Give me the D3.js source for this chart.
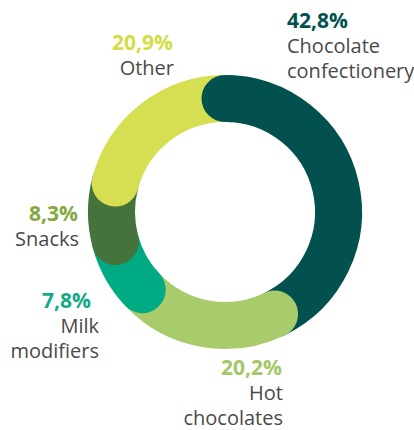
<!DOCTYPE html>
<html>
<head>
<meta charset="utf-8">
<script src="https://cdn.jsdelivr.net/npm/d3@7"></script>
<style>
  body { margin: 0; background: #fff; }
  text { font-family: "Open Sans", "Noto Sans", sans-serif; }
</style>
</head>
<body>
<script>
// segment data, clockwise from the top
var categories = ["Chocolate confectionery", "Hot chocolates", "Milk modifiers", "Snacks", "Other"];
var shares = [42.8, 20.2, 7.8, 8.3, 20.9];
var pctLabels = ["42,8%", "20,2%", "7,8%", "8,3%", "20,9%"];
var nameLines = [["Chocolate", "confectionery"], ["Hot", "chocolates"], ["Milk", "modifiers"], ["Snacks"], ["Other"]];

var colors = ["#02514f", "#a8cb6b", "#00ab84", "#44733c", "#d6df52"];
var labelColors = ["#02514f", "#a3c865", "#13aa88", "#84a93f", "#d4dd44"];

// label anchor per category: [x, y of percent baseline, text-anchor]
var labelPos = [
    [287, 28, "start"],
    [282, 375, "end"],
    [91, 308, "end"],
    [78, 221, "end"],
    [173, 50, "end"]
];
var nameOffsets = [0, 1, 8, 1, 1];

var width = 414,
    height = 430,
    cx = 225,
    cy = 212,
    outerR = 137,
    innerR = 90,
    midR = (outerR + innerR) / 2,
    thick = outerR - innerR;

var svg = d3.select("body").append("svg")
    .attr("width", width)
    .attr("height", height);

var pie = d3.pie().sort(null).value(function(d) { return d; });
var arcs = pie(shares);

function arcPath(a0, a1) {
    var p = d3.path();
    var start = a0 - Math.PI / 2, end = a1 - Math.PI / 2;
    p.moveTo(midR * Math.cos(start), midR * Math.sin(start));
    p.arc(0, 0, midR, start, end);
    return p.toString();
}

var ring = svg.append("g").attr("transform", "translate(" + cx + "," + cy + ")");

ring.selectAll(".seg")
    .data(arcs)
    .enter().append("path")
    .attr("class", "seg")
    .attr("d", function(d) { return arcPath(d.startAngle, d.endAngle); })
    .attr("fill", "none")
    .attr("stroke", function(d, i) { return colors[i]; })
    .attr("stroke-width", thick)
    .attr("stroke-linecap", "round");

// first segment's rounded start has to sit over the last one
ring.append("path")
    .attr("d", arcPath(arcs[0].startAngle, arcs[0].startAngle + 0.05))
    .attr("fill", "none")
    .attr("stroke", colors[0])
    .attr("stroke-width", thick)
    .attr("stroke-linecap", "round");

var labels = svg.selectAll(".lbl")
    .data(categories)
    .enter().append("g")
    .attr("class", "lbl");

labels.append("text")
    .attr("x", function(d, i) { return labelPos[i][0]; })
    .attr("y", function(d, i) { return labelPos[i][1]; })
    .attr("text-anchor", function(d, i) { return labelPos[i][2]; })
    .attr("font-size", 21)
    .attr("font-weight", "bold")
    .attr("fill", function(d, i) { return labelColors[i]; })
    .text(function(d, i) { return pctLabels[i]; });

labels.each(function(d, i) {
    var g = d3.select(this);
    nameLines[i].forEach(function(line, j) {
        g.append("text")
            .attr("x", labelPos[i][0] + nameOffsets[i])
            .attr("y", labelPos[i][1] + 25 + j * 25)
            .attr("text-anchor", labelPos[i][2])
            .attr("font-size", 20)
            .attr("fill", "#4a4a4a")
            .text(line);
    });
});
</script>
</body>
</html>
